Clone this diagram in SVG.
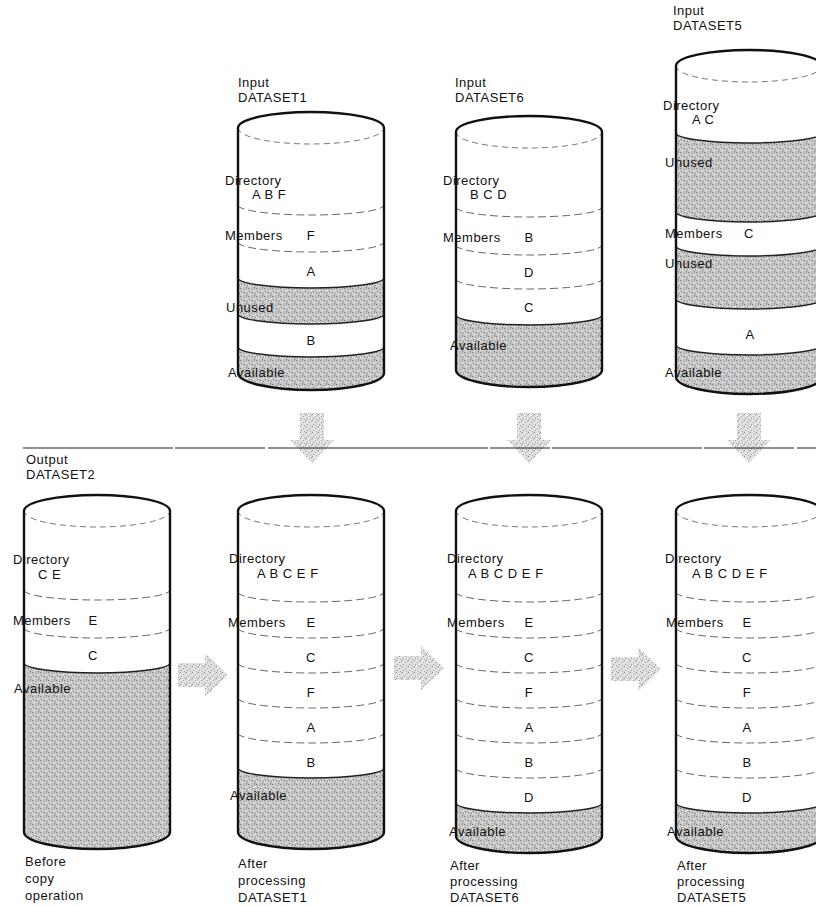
<svg xmlns="http://www.w3.org/2000/svg" width="816" height="906" viewBox="0 0 816 906">
<defs>
<pattern id="stip" width="8" height="8" patternUnits="userSpaceOnUse">
<rect width="8" height="8" fill="#c6c6c6"/>
<rect x="0" y="0" width="1" height="1" fill="#6f6f6f"/>
<rect x="3" y="1" width="1" height="1" fill="#8a8a8a"/>
<rect x="6" y="0" width="1" height="1" fill="#9a9a9a"/>
<rect x="1" y="3" width="1" height="1" fill="#7a7a7a"/>
<rect x="5" y="3" width="1" height="1" fill="#eeeeee"/>
<rect x="4" y="4" width="1" height="1" fill="#777"/>
<rect x="7" y="5" width="1" height="1" fill="#888"/>
<rect x="2" y="6" width="1" height="1" fill="#f2f2f2"/>
<rect x="6" y="7" width="1" height="1" fill="#808080"/>
<rect x="0" y="5" width="1" height="1" fill="#e6e6e6"/>
<rect x="2" y="2" width="1" height="1" fill="#f0f0f0"/>
<rect x="7" y="2" width="1" height="1" fill="#f4f4f4"/>
</pattern>
<pattern id="stip2" width="6" height="6" patternUnits="userSpaceOnUse">
<rect width="6" height="6" fill="#e0e0e0"/>
<rect x="0" y="0" width="1" height="1" fill="#8c8c8c"/>
<rect x="3" y="2" width="1" height="1" fill="#a0a0a0"/>
<rect x="5" y="1" width="1" height="1" fill="#b0b0b0"/>
<rect x="1" y="4" width="1" height="1" fill="#999"/>
<rect x="4" y="5" width="1" height="1" fill="#aaa"/>
<rect x="2" y="1" width="1" height="1" fill="#fafafa"/>
</pattern>
</defs>
<style>
.body{fill:#fff;stroke:none}
.outline{fill:none;stroke:#111;stroke-width:2.4;stroke-linejoin:round}
.front{fill:none;stroke:#666;stroke-width:0.9;stroke-dasharray:6 4}
.div{fill:none;stroke:#555;stroke-width:0.9;stroke-dasharray:8 4}
.edge{fill:none;stroke:#222;stroke-width:1.5}
.shade{fill:url(#stip)}
.arr{fill:url(#stip2)}
.t{font-family:"Liberation Sans",Arial,sans-serif;font-size:13px;fill:#111;letter-spacing:0.5px}
.c{text-anchor:middle}
</style>
<rect width="816" height="906" fill="#fff"/>

<g id="connectors">
<polygon class="arr" points="300,413 324,413 324,440 334,440 312,463 290,440 300,440"/>
<polygon class="arr" points="517,413 541,413 541,440 551,440 529,463 507,440 517,440"/>
<polygon class="arr" points="737,413 761,413 761,440 771,440 749,463 727,440 737,440"/>
<polygon class="arr" points="178,663 205,663 205,653 228,675 205,697 205,687 178,687"/>
<polygon class="arr" points="394,656 421,656 421,646 444,668 421,690 421,680 394,680"/>
<polygon class="arr" points="611,657 638,657 638,647 661,669 638,691 638,681 611,681"/>
</g>
<path id="divider" d="M23,448 H816" fill="none" stroke="#222" stroke-width="1.2" stroke-dasharray="150 2 90 3 220 2 60 2"/>

<g id="dataset1">
<path class="body" d="M238,128 L238,373 A73,17 0 0 0 384,373 L384,128 A73,16 0 0 0 238,128 Z"/>
<path class="shade" d="M238,278 A73,10 0 0 0 384,278 L384,314 A73,10 0 0 1 238,314 Z"/>
<path class="shade" d="M238,347 A73,10 0 0 0 384,347 L384,373 A73,17 0 0 1 238,373 Z"/>
<path class="front" d="M238,128 A73,16 0 0 0 384,128"/>
<path class="div" d="M238,205 A73,10 0 0 0 384,205"/>
<path class="div" d="M238,242 A73,10 0 0 0 384,242"/>
<path class="edge" d="M238,278 A73,10 0 0 0 384,278"/>
<path class="edge" d="M238,314 A73,10 0 0 0 384,314"/>
<path class="edge" d="M238,347 A73,10 0 0 0 384,347"/>
<path class="outline" d="M238,128 L238,373 A73,17 0 0 0 384,373 L384,128 A73,16 0 0 0 238,128 Z"/>
<text class="t" x="238" y="87">Input</text>
<text class="t" x="238" y="102">DATASET1</text>
<text class="t" x="225" y="185">Directory</text>
<text class="t" x="252" y="199">A B F</text>
<text class="t" x="225" y="240">Members</text>
<text class="t c" x="311" y="240">F</text>
<text class="t c" x="311" y="276">A</text>
<text class="t" x="226" y="312">Unused</text>
<text class="t c" x="311" y="345">B</text>
<text class="t" x="228" y="377">Available</text>
</g>

<g id="dataset6">
<path class="body" d="M456,132 L456,370 A73,17 0 0 0 602,370 L602,132 A73,16 0 0 0 456,132 Z"/>
<path class="shade" d="M456,315 A73,10 0 0 0 602,315 L602,370 A73,17 0 0 1 456,370 Z"/>
<path class="front" d="M456,132 A73,16 0 0 0 602,132"/>
<path class="div" d="M456,207 A73,10 0 0 0 602,207"/>
<path class="div" d="M456,245 A73,10 0 0 0 602,245"/>
<path class="div" d="M456,279 A73,10 0 0 0 602,279"/>
<path class="edge" d="M456,315 A73,10 0 0 0 602,315"/>
<path class="outline" d="M456,132 L456,370 A73,17 0 0 0 602,370 L602,132 A73,16 0 0 0 456,132 Z"/>
<text class="t" x="455" y="87">Input</text>
<text class="t" x="455" y="102">DATASET6</text>
<text class="t" x="443" y="185">Directory</text>
<text class="t" x="470" y="199">B C D</text>
<text class="t" x="443" y="242">Members</text>
<text class="t c" x="529" y="242">B</text>
<text class="t c" x="529" y="277">D</text>
<text class="t c" x="529" y="312">C</text>
<text class="t" x="450" y="350">Available</text>
</g>

<g id="dataset5">
<path class="body" d="M676,66 L676,377 A73,17 0 0 0 822,377 L822,66 A73,16 0 0 0 676,66 Z"/>
<path class="shade" d="M676,133 A73,10 0 0 0 822,133 L822,212 A73,10 0 0 1 676,212 Z"/>
<path class="shade" d="M676,246 A73,10 0 0 0 822,246 L822,299 A73,10 0 0 1 676,299 Z"/>
<path class="shade" d="M676,345 A73,10 0 0 0 822,345 L822,377 A73,17 0 0 1 676,377 Z"/>
<path class="front" d="M676,66 A73,16 0 0 0 822,66"/>
<path class="edge" d="M676,133 A73,10 0 0 0 822,133"/>
<path class="edge" d="M676,212 A73,10 0 0 0 822,212"/>
<path class="edge" d="M676,246 A73,10 0 0 0 822,246"/>
<path class="edge" d="M676,299 A73,10 0 0 0 822,299"/>
<path class="edge" d="M676,345 A73,10 0 0 0 822,345"/>
<path class="outline" d="M676,66 L676,377 A73,17 0 0 0 822,377 L822,66 A73,16 0 0 0 676,66 Z"/>
<text class="t" x="673" y="15">Input</text>
<text class="t" x="673" y="30">DATASET5</text>
<text class="t" x="663" y="110">Directory</text>
<text class="t" x="692" y="124">A C</text>
<text class="t" x="665" y="167">Unused</text>
<text class="t" x="665" y="238">Members</text>
<text class="t c" x="749" y="238">C</text>
<text class="t" x="665" y="268">Unused</text>
<text class="t c" x="750" y="339">A</text>
<text class="t" x="665" y="377">Available</text>
</g>

<g id="dataset2-before">
<path class="body" d="M24,511 L24,832 A73,17 0 0 0 170,832 L170,511 A73,16 0 0 0 24,511 Z"/>
<path class="shade" d="M24,663 A73,10 0 0 0 170,663 L170,832 A73,17 0 0 1 24,832 Z"/>
<path class="front" d="M24,511 A73,16 0 0 0 170,511"/>
<path class="div" d="M24,590 A73,10 0 0 0 170,590"/>
<path class="div" d="M24,628 A73,10 0 0 0 170,628"/>
<path class="edge" d="M24,663 A73,10 0 0 0 170,663"/>
<path class="outline" d="M24,511 L24,832 A73,17 0 0 0 170,832 L170,511 A73,16 0 0 0 24,511 Z"/>
<text class="t" x="26" y="464">Output</text>
<text class="t" x="26" y="479">DATASET2</text>
<text class="t" x="13" y="564">Directory</text>
<text class="t" x="38" y="579">C E</text>
<text class="t" x="13" y="625">Members</text>
<text class="t c" x="93" y="625">E</text>
<text class="t c" x="93" y="660">C</text>
<text class="t" x="14" y="693">Available</text>
<text class="t" x="25" y="866">Before</text>
<text class="t" x="25" y="883">copy</text>
<text class="t" x="25" y="900">operation</text>
</g>

<g id="after-dataset1">
<path class="body" d="M238,511 L238,832 A73,17 0 0 0 384,832 L384,511 A73,16 0 0 0 238,511 Z"/>
<path class="shade" d="M238,768 A73,10 0 0 0 384,768 L384,832 A73,17 0 0 1 238,832 Z"/>
<path class="front" d="M238,511 A73,16 0 0 0 384,511"/>
<path class="div" d="M238,592 A73,10 0 0 0 384,592"/>
<path class="div" d="M238,628 A73,10 0 0 0 384,628"/>
<path class="div" d="M238,663 A73,10 0 0 0 384,663"/>
<path class="div" d="M238,698 A73,10 0 0 0 384,698"/>
<path class="div" d="M238,733 A73,10 0 0 0 384,733"/>
<path class="edge" d="M238,768 A73,10 0 0 0 384,768"/>
<path class="outline" d="M238,511 L238,832 A73,17 0 0 0 384,832 L384,511 A73,16 0 0 0 238,511 Z"/>
<text class="t" x="229" y="563">Directory</text>
<text class="t" x="257" y="578">A B C E F</text>
<text class="t" x="228" y="627">Members</text>
<text class="t c" x="311" y="627">E</text>
<text class="t c" x="311" y="662">C</text>
<text class="t c" x="311" y="697">F</text>
<text class="t c" x="311" y="732">A</text>
<text class="t c" x="311" y="767">B</text>
<text class="t" x="230" y="800">Available</text>
<text class="t" x="238" y="868">After</text>
<text class="t" x="238" y="885">processing</text>
<text class="t" x="238" y="902">DATASET1</text>
</g>

<g id="after-dataset6">
<path class="body" d="M456,511 L456,836 A73,17 0 0 0 602,836 L602,511 A73,16 0 0 0 456,511 Z"/>
<path class="shade" d="M456,803 A73,10 0 0 0 602,803 L602,836 A73,17 0 0 1 456,836 Z"/>
<path class="front" d="M456,511 A73,16 0 0 0 602,511"/>
<path class="div" d="M456,592 A73,10 0 0 0 602,592"/>
<path class="div" d="M456,628 A73,10 0 0 0 602,628"/>
<path class="div" d="M456,663 A73,10 0 0 0 602,663"/>
<path class="div" d="M456,698 A73,10 0 0 0 602,698"/>
<path class="div" d="M456,733 A73,10 0 0 0 602,733"/>
<path class="div" d="M456,768 A73,10 0 0 0 602,768"/>
<path class="edge" d="M456,803 A73,10 0 0 0 602,803"/>
<path class="outline" d="M456,511 L456,836 A73,17 0 0 0 602,836 L602,511 A73,16 0 0 0 456,511 Z"/>
<text class="t" x="447" y="563">Directory</text>
<text class="t" x="468" y="578">A B C D E F</text>
<text class="t" x="447" y="627">Members</text>
<text class="t c" x="529" y="627">E</text>
<text class="t c" x="529" y="662">C</text>
<text class="t c" x="529" y="697">F</text>
<text class="t c" x="529" y="732">A</text>
<text class="t c" x="529" y="767">B</text>
<text class="t c" x="529" y="802">D</text>
<text class="t" x="449" y="836">Available</text>
<text class="t" x="450" y="870">After</text>
<text class="t" x="450" y="886">processing</text>
<text class="t" x="450" y="902">DATASET6</text>
</g>

<g id="after-dataset5">
<path class="body" d="M676,511 L676,836 A73,17 0 0 0 822,836 L822,511 A73,16 0 0 0 676,511 Z"/>
<path class="shade" d="M676,803 A73,10 0 0 0 822,803 L822,836 A73,17 0 0 1 676,836 Z"/>
<path class="front" d="M676,511 A73,16 0 0 0 822,511"/>
<path class="div" d="M676,592 A73,10 0 0 0 822,592"/>
<path class="div" d="M676,628 A73,10 0 0 0 822,628"/>
<path class="div" d="M676,663 A73,10 0 0 0 822,663"/>
<path class="div" d="M676,698 A73,10 0 0 0 822,698"/>
<path class="div" d="M676,733 A73,10 0 0 0 822,733"/>
<path class="div" d="M676,768 A73,10 0 0 0 822,768"/>
<path class="edge" d="M676,803 A73,10 0 0 0 822,803"/>
<path class="outline" d="M676,511 L676,836 A73,17 0 0 0 822,836 L822,511 A73,16 0 0 0 676,511 Z"/>
<text class="t" x="665" y="563">Directory</text>
<text class="t" x="692" y="578">A B C D E F</text>
<text class="t" x="666" y="627">Members</text>
<text class="t c" x="747" y="627">E</text>
<text class="t c" x="747" y="662">C</text>
<text class="t c" x="747" y="697">F</text>
<text class="t c" x="747" y="732">A</text>
<text class="t c" x="747" y="767">B</text>
<text class="t c" x="747" y="802">D</text>
<text class="t" x="667" y="836">Available</text>
<text class="t" x="677" y="870">After</text>
<text class="t" x="677" y="886">processing</text>
<text class="t" x="677" y="902">DATASET5</text>
</g>
</svg>
